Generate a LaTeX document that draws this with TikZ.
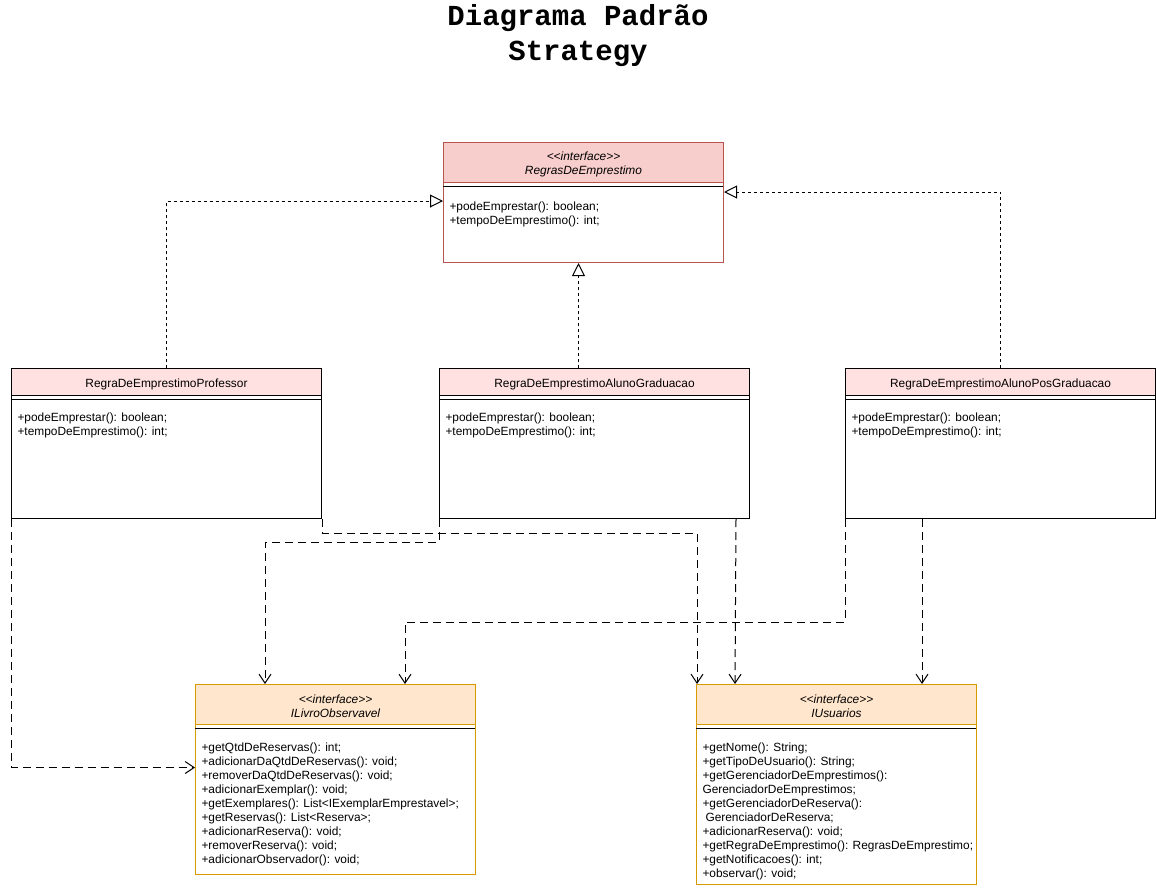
\documentclass[tikz,border=0pt]{standalone}
\usepackage{fontspec}
\setmainfont{Liberation Sans}
\newfontfamily\titlefont{Liberation Mono}
\usetikzlibrary{arrows.meta,positioning}
\definecolor{ifacefill}{HTML}{F8CECC}
\definecolor{ifaceline}{HTML}{B85450}
\definecolor{clsfill}{HTML}{FFE1E1}
\definecolor{obsfill}{HTML}{FFE6CC}
\definecolor{obsline}{HTML}{D79B00}
\newcommand{\umlfont}{\fontsize{11.9}{14}\selectfont}
\tikzset{
  hdr/.style={rectangle,draw,anchor=north west,inner sep=0pt},
  hdrtext/.style={yshift=-2pt,inner sep=0pt,align=center,font=\umlfont},
  ihdr/.style={hdr,minimum width=280pt,minimum height=40pt},
  chdr/.style={hdr,fill=clsfill,minimum width=310pt,minimum height=27pt},
  cbody/.style={rectangle,draw,anchor=north west,inner sep=0pt,
    minimum width=310pt,minimum height=123pt},
  ibody/.style={rectangle,draw,anchor=north west,inner sep=0pt,minimum width=280pt},
  members/.style={anchor=north west,inner sep=0pt,align=left,font=\umlfont},
  realize/.style={dash pattern=on 3pt off 3pt,-{Triangle[open,length=13pt,width=13pt]}},
  depend/.style={dash pattern=on 8pt off 5pt,-{Straight Barb[length=9pt,width=12pt]}}
}
\begin{document}
\begin{tikzpicture}[x=1pt,y=-1pt,line width=1pt]
  \useasboundingbox (0,0) rectangle (1156,887);
  \path (578,35.5) node(title) [font=\titlefont\bfseries\fontsize{29}{34.5}\selectfont,align=center]
    {Diagrama Padrão\\Strategy};

  % interface
  \path (443,142) node(ifaceH) [ihdr,fill=ifacefill,draw=ifaceline,
    label={[hdrtext,font=\umlfont\itshape]center:{<{}<interface>{}>\\RegrasDeEmprestimo}}] {};
  \path (443,182) node(ifaceB) [ibody,draw=ifaceline,minimum height=80pt] {};
  \draw (ifaceB.north west) ++(0,4) -- ++(280,0);
  \path (449,201.5) node(ifaceM) [members] {+podeEmprestar(): boolean;\\+tempoDeEmprestimo(): int;};

  % regras concretas
  \foreach \nm/\x/\cls in {prof/11/RegraDeEmprestimoProfessor,
      grad/439/RegraDeEmprestimoAlunoGraduacao,
      pos/845/RegraDeEmprestimoAlunoPosGraduacao}{
    \path (\x,368) node(\nm H) [chdr,label={[hdrtext]center:\cls}] {};
    \path (\x,395) node(\nm B) [cbody] {};
    \draw (\nm B.north west) ++(0,4) -- ++(310,0);
    \path (\x+6,412.5) node(\nm M) [members] {+podeEmprestar(): boolean;\\+tempoDeEmprestimo(): int;};
  }

  % ILivroObservavel
  \path (195,684) node(livroH) [ihdr,fill=obsfill,draw=obsline,
    label={[hdrtext,font=\umlfont\itshape]center:{<{}<interface>{}>\\ILivroObservavel}}] {};
  \path (195,724) node(livroB) [ibody,draw=obsline,minimum height=150pt] {};
  \draw (livroB.north west) ++(0,4) -- ++(280,0);
  \path (201,742.5) node(livroM) [members] {+getQtdDeReservas(): int;\\
    +adicionarDaQtdDeReservas(): void;\\+removerDaQtdDeReservas(): void;\\
    +adicionarExemplar(): void;\\+getExemplares(): List<IExemplarEmprestavel>;\\
    +getReservas(): List<Reserva>;\\+adicionarReserva(): void;\\
    +removerReserva(): void;\\+adicionarObservador(): void;};

  % IUsuarios
  \path (696,684) node(usuH) [ihdr,fill=obsfill,draw=obsline,
    label={[hdrtext,font=\umlfont\itshape]center:{<{}<interface>{}>\\IUsuarios}}] {};
  \path (696,724) node(usuB) [ibody,draw=obsline,minimum height=160pt] {};
  \draw (usuB.north west) ++(0,4) -- ++(280,0);
  \path (702,742.5) node(usuM) [members] {+getNome(): String;\\
    +getTipoDeUsuario(): String;\\+getGerenciadorDeEmprestimos():\\
    GerenciadorDeEmprestimos;\\+getGerenciadorDeReserva():\\
    \hspace{3pt}GerenciadorDeReserva;\\+adicionarReserva(): void;\\
    +getRegraDeEmprestimo(): RegrasDeEmprestimo;\\+getNotificacoes(): int;\\
    +observar(): void;};

  % realizacao
  \coordinate (r1) at ([yshift=-19pt]ifaceB.north west);
  \coordinate (r3) at ([yshift=-10pt]ifaceB.north east);
  \draw[realize] (profH.north) |- (r1);
  \draw[realize] ([xshift=-16pt]gradH.north) -- ([xshift=-16pt]gradH.north |- ifaceB.south);
  \draw[realize] (posH.north) |- (r3);

  % dependencias
  \coordinate (d1) at ([yshift=32pt]livroB.west);
  \draw[depend] (profB.south west) |- (d1);
  \draw[depend] (profB.south east) -- ++(0,14) -| ([xshift=1pt]usuH.north west);
  \draw[depend] (gradB.south west) -- ++(0,23) -| ([xshift=70pt]livroH.north west);
  \draw[depend] ([xshift=-14pt]gradB.south east) -- ([xshift=39pt]usuH.north west);
  \draw[depend] (posB.south west) -- ++(0,103) -| ([xshift=210pt]livroH.north west);
  \draw[depend] ([xshift=77pt]posB.south west) -- ([xshift=226pt]usuH.north west);
\end{tikzpicture}
\end{document}
